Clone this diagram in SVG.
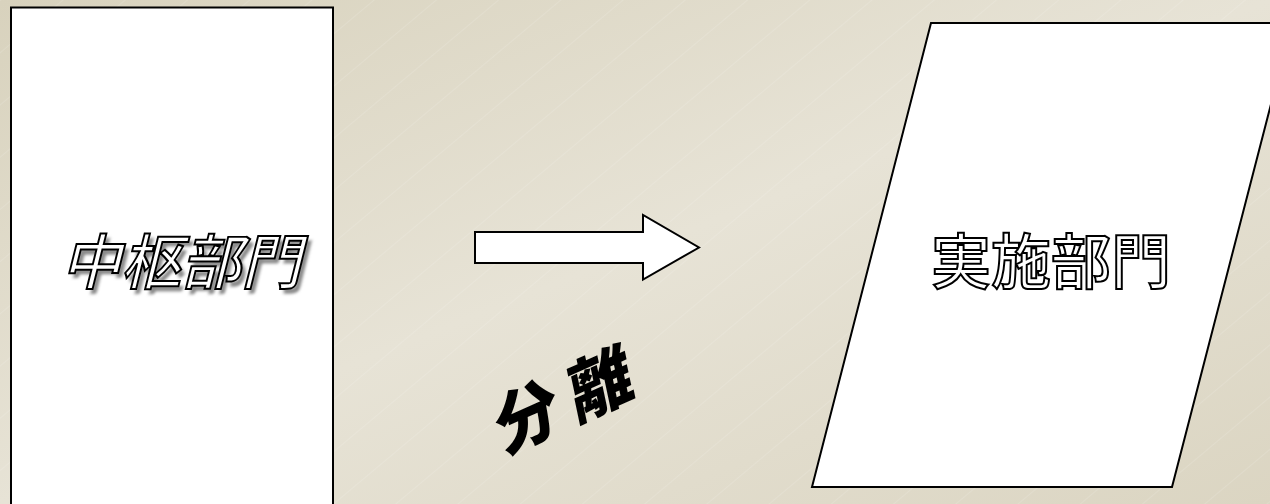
<svg xmlns="http://www.w3.org/2000/svg" width="1270" height="504" viewBox="0 0 1270 504">
<defs>
<linearGradient id="bg" x1="0" y1="0" x2="1" y2="1">
<stop offset="0" stop-color="#d8d2bd"/>
<stop offset="0.5" stop-color="#e7e3d6"/>
<stop offset="1" stop-color="#dbd5c2"/>
</linearGradient>
<pattern id="lines" width="40" height="40" patternUnits="userSpaceOnUse" patternTransform="rotate(-40)">
<line x1="0" y1="0" x2="40" y2="0" stroke="#ffffff" stroke-opacity="0.25" stroke-width="1"/>
</pattern>
<filter id="blur" x="-10%" y="-10%" width="120%" height="120%">
<feGaussianBlur stdDeviation="1.5"/>
</filter>
</defs>
<style>
.box{fill:#ffffff;stroke:#000000;stroke-width:2}
.outline{font-family:"Noto Sans CJK JP","Noto Sans CJK SC",sans-serif;font-size:60px;font-weight:500;fill:#ffffff;stroke:#000000;stroke-width:2}
.shadow{font-family:"Noto Sans CJK JP","Noto Sans CJK SC",sans-serif;font-size:60px;font-weight:500;fill:#8a8a8a;filter:url(#blur)}
.brush{font-family:"Noto Sans CJK JP","Noto Sans CJK SC",sans-serif;font-size:66px;font-weight:900;fill:#000000}
</style>
<rect width="1270" height="504" fill="url(#bg)"/>
<rect width="1270" height="504" fill="url(#lines)"/>
<g id="node-central">
<rect class="box" x="11" y="7.5" width="322" height="520"/>
<g transform="translate(181,284) skewX(-14)">
<text class="shadow" x="5" y="5" text-anchor="middle">中枢部門</text>
<text class="outline" x="0" y="0" text-anchor="middle">中枢部門</text>
</g>
</g>
<g id="node-execution">
<polygon class="box" points="931,23 1292,23 1172,487 812,487"/>
<text class="outline" x="1051" y="284" text-anchor="middle">実施部門</text>
</g>
<g id="connectors">
<polygon class="box" points="475,232 643,232 643,215 699,247.5 643,279.5 643,263 475,263"/>
</g>
<g id="label-separation">
<g transform="translate(564,400) rotate(-24) skewX(-12)">
<text class="brush" x="0" y="24" text-anchor="middle">分 離</text>
</g>
</g>
</svg>
